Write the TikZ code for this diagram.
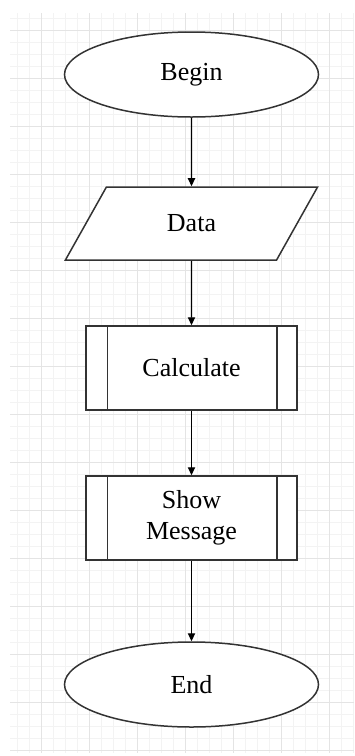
\documentclass[tikz,border=0pt]{standalone}
\usepackage{fontspec}
\setmainfont{Liberation Serif}
\usetikzlibrary{shapes.geometric,arrows.meta}

\definecolor{gridminor}{HTML}{F3F3F3}
\definecolor{gridmajor}{HTML}{E4E4E4}
\definecolor{shapeline}{HTML}{333333}

\tikzset{
  shapebase/.style={draw=shapeline, line width=0.75pt, fill=white, inner sep=0pt,
    font=\fontsize{13pt}{15.6pt}\selectfont, align=center},
  terminal/.style={shapebase, ellipse, minimum width=127pt, minimum height=42.5pt},
  iobox/.style={shapebase, trapezium, trapezium left angle=55.6, trapezium right angle=124.4,
    trapezium stretches=true, minimum width=126.5pt, minimum height=36.5pt},
  procbox/.style={shapebase, rectangle, minimum width=105.5pt, minimum height=42pt},
  flow/.style={draw=black, line width=0.65pt, -{Triangle[length=4pt,width=3.6pt]}},
  sideline/.style={draw=shapeline, line width=0.75pt},
}

\begin{document}
\begin{tikzpicture}[x=0.5pt, y=-0.5pt]
  \useasboundingbox (0,0) rectangle (354,756);
  \fill[white] (0,0) rectangle (354,756);

  % background grid
  \begin{scope}
    \clip (10,13) rectangle (354,752);
    \draw[gridminor, line width=0.5pt]
      \foreach \gx in {5,17,...,353} {(\gx,0) -- (\gx,756)}
      \foreach \gy in {6,18,...,755} {(0,\gy) -- (354,\gy)};
    \draw[gridmajor, line width=0.5pt]
      \foreach \gx in {41,89,...,353} {(\gx,0) -- (\gx,756)}
      \foreach \gy in {30,78,...,755} {(0,\gy) -- (354,\gy)};
  \end{scope}

  % flowchart nodes
  \node[terminal] (begin) at (191.5,74.5) {Begin};
  \node[iobox]    (data)  at (191.5,223.5) {Data};
  \node[procbox]  (calc)  at (191.5,368) {Calculate};
  \node[procbox]  (show)  at (191.5,518) {Show\\Message};
  \node[terminal] (end)   at (191.5,684.5) {End};

  % inner side bars of the predefined-process boxes
  \foreach \n in {calc,show} {
    \draw[sideline] ([xshift=11pt]\n.north west) -- ([xshift=11pt]\n.south west);
    \draw[sideline] ([xshift=-10.5pt]\n.north east) -- ([xshift=-10.5pt]\n.south east);
  }

  % connectors
  \draw[flow] (begin) -- (data);
  \draw[flow] (data) -- (calc);
  \draw[flow] (calc) -- (show);
  \draw[flow] (show) -- (end);
\end{tikzpicture}
\end{document}
